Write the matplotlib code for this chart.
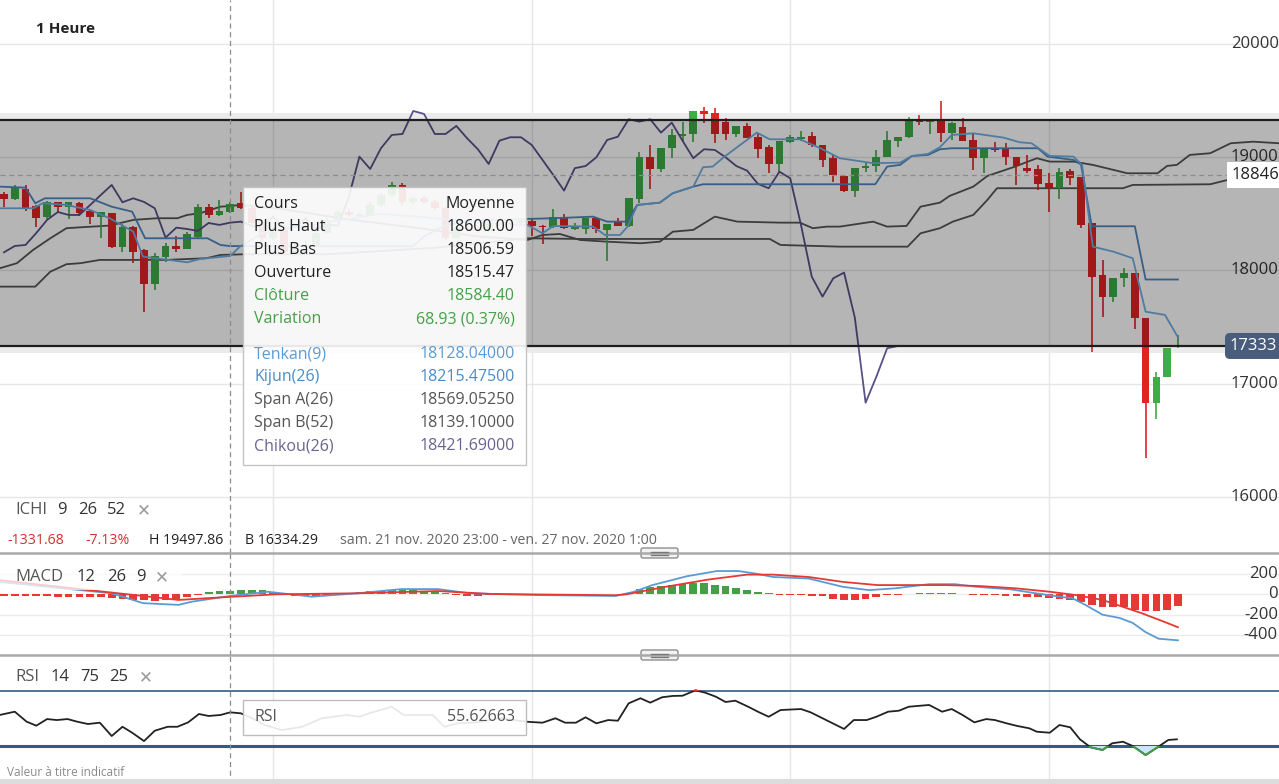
import numpy as np
import matplotlib.pyplot as plt
from matplotlib.patches import Rectangle, FancyBboxPatch

plt.rcParams['font.family'] = ['Open Sans', 'DejaVu Sans']

W, H = 1279, 784

# hourly candles, sam. 21 nov. 2020 23:00 -> ven. 27 nov. 2020 1:00
opens = [18673, 18631, 18720, 18570, 18470, 18602, 18563, 18593, 18525, 18475,
         18505, 18210, 18387, 18181, 17881, 18117, 18219, 18190, 18298, 18563,
         18490, 18515, 18593, 18549, 18420, 18290, 18357, 18160, 18216, 18225,
         18331, 18446, 18516, 18485, 18490, 18578, 18667, 18755, 18602, 18637,
         18605, 18549, 18290, 18378, 18366, 18349, 18419, 18402, 18422, 18437,
         18393, 18382, 18475, 18364, 18364, 18461, 18358, 18426, 18393, 18631,
         19005, 18896, 19079, 19190, 19203, 19411, 19388, 19314, 19205, 19276,
         19181, 19088, 18940, 19137, 19158, 19188, 19108, 18991, 18835, 18702,
         18903, 18922, 18999, 19146, 19181, 19329, 19314, 19335, 19217, 19270,
         19152, 18991, 19070, 19070, 19005, 18903, 18894, 18770, 18726, 18881,
         18823, 18417, 17960, 17769, 17931, 17981, 17583, 16832, 17062, 17322]
highs = [18690, 18755, 18755, 18575, 18610, 18605, 18605, 18600, 18530, 18520,
         18510, 18411, 18390, 18185, 18152, 18245, 18305, 18343, 18587, 18587,
         18622, 18600, 18690, 18570, 18440, 18380, 18370, 18240, 18260, 18350,
         18460, 18530, 18540, 18510, 18600, 18680, 18780, 18770, 18650, 18660,
         18620, 18560, 18390, 18400, 18380, 18430, 18440, 18440, 18450, 18452,
         18402, 18543, 18499, 18417, 18461, 18461, 18408, 18461, 18643, 19049,
         19108, 19079, 19247, 19314, 19408, 19446, 19432, 19344, 19276, 19300,
         19205, 19108, 19146, 19196, 19234, 19226, 19108, 19020, 18845, 18903,
         18961, 19064, 19234, 19181, 19358, 19373, 19335, 19498, 19314, 19344,
         19212, 19070, 19137, 19123, 19005, 19020, 18932, 18858, 18903, 18894,
         18823, 18417, 18093, 17931, 18019, 17981, 17583, 17106, 17313, 17431]
lows = [18558, 18625, 18525, 18388, 18455, 18508, 18452, 18481, 18408, 18284,
        18196, 18166, 18069, 17631, 17828, 18078, 18166, 18185, 18290, 18461,
        18481, 18507, 18540, 18400, 18250, 18270, 18140, 18130, 18190, 18210,
        18320, 18430, 18470, 18460, 18480, 18560, 18650, 18580, 18590, 18590,
        18530, 18270, 18280, 18350, 18330, 18340, 18390, 18395, 18410, 18307,
        18231, 18373, 18364, 18358, 18322, 18328, 18087, 18393, 18387, 18593,
        18720, 18867, 18996, 19137, 19137, 19300, 19123, 19152, 19176, 19167,
        18996, 18864, 18858, 19123, 19146, 19093, 18917, 18784, 18690, 18652,
        18872, 18872, 18999, 19093, 19167, 19285, 19203, 19137, 19152, 19146,
        18887, 18858, 19046, 18932, 18755, 18858, 18711, 18519, 18629, 18755,
        18373, 17283, 17592, 17719, 17852, 17481, 16342, 16686, 17062, 17313]
closes = [18631, 18726, 18543, 18466, 18602, 18563, 18602, 18510, 18475, 18514,
          18210, 18387, 18166, 17878, 18128, 18216, 18190, 18322, 18563, 18490,
          18525, 18584, 18549, 18420, 18290, 18357, 18160, 18216, 18225, 18331,
          18446, 18516, 18490, 18490, 18578, 18667, 18755, 18602, 18637, 18605,
          18549, 18290, 18378, 18366, 18349, 18419, 18402, 18422, 18431, 18393,
          18382, 18475, 18373, 18382, 18461, 18364, 18408, 18393, 18643, 19005,
          18896, 19079, 19196, 19205, 19408, 19382, 19205, 19205, 19276, 19167,
          19070, 18940, 19146, 19176, 19176, 19108, 18976, 18843, 18705, 18903,
          18922, 18999, 19152, 19181, 19335, 19314, 19335, 19217, 19305, 19146,
          18991, 19070, 19064, 18999, 18922, 18881, 18764, 18726, 18872, 18814,
          18402, 17945, 17769, 17931, 17981, 17583, 16832, 17062, 17313, 17333]

# ichimoku lines (candle index, price)
tenkan_x = [-0.4, 2.7, 3.6, 5.8, 8.0, 9.8, 12.0, 12.9, 17.0, 18.2,
            21.0, 21.9, 24, 27, 31, 35, 39, 43, 46, 48.6,
            50.0, 51.0, 54.7, 55.8, 57.2, 57.9, 58.8, 60.9, 62.1, 64.0,
            64.9, 65.8, 66.9, 69.9, 71.1, 73.9, 75.8, 77.6, 80.7, 83.2,
            84.3, 85.8, 86.9, 88.0, 90.0, 92.8, 94.3, 95.4, 97.1, 99.3,
            100.1, 101.1, 103.0, 104.8, 106.0, 107.8, 109.0]
tenkan_y = [18549, 18549, 18593, 18578, 18534, 18461, 18343, 18122, 18072, 18101,
            18128, 18210, 18330, 18380, 18440, 18500, 18470, 18430, 18410, 18402,
            18328, 18393, 18387, 18313, 18313, 18387, 18578, 18599, 18682, 18740,
            18911, 18917, 19005, 19217, 19158, 19158, 19079, 18991, 18947, 18952,
            19011, 19029, 19088, 19196, 19211, 19173, 19132, 19123, 19011, 19005,
            18932, 18210, 18166, 18108, 17636, 17607, 17410]
kijun_x = [-0.4, 2.0, 2.9, 3.8, 8.0, 10.0, 11.9, 13.1, 18.9, 20.1,
           21.0, 30, 38, 39, 41, 44, 48.6, 51.0, 54.7, 56.0,
           57.8, 58.8, 60.9, 62.1, 64.0, 64.9, 80.9, 82.0, 83.2, 84.3,
           85.8, 86.9, 88.0, 96.0, 96.9, 99.3, 100.0, 101.0, 105.0, 106.0,
           109.0]
kijun_y = [18740, 18731, 18593, 18637, 18637, 18563, 18519, 18284, 18284, 18225,
           18215, 18215, 18215, 18300, 18400, 18440, 18455, 18461, 18475, 18431,
           18431, 18578, 18599, 18682, 18740, 18761, 18761, 18917, 18932, 19011,
           19020, 19070, 19079, 19079, 19005, 18976, 18935, 18390, 18390, 17920,
           17920]
span_a_x = [-0.4, 1.2, 2.7, 4.3, 5.8, 7.1, 9.8, 12.0, 14.2, 16.1,
            17.0, 18.2, 20.1, 21.0, 21.9, 26, 32, 38, 44, 48.6,
            50.0, 51.6, 53.5, 56.0, 59.1, 60.9, 62.1, 64.0, 66.0, 68.1,
            72.1, 73.9, 75.1, 76.4, 77.6, 80.7, 82.0, 83.8, 85.1, 86.9,
            87.8, 90.0, 91.3, 93.7, 95.9, 97.1, 99.3, 101.1, 104.3, 107.1,
            108.0, 108.9, 110.1, 112.0, 113.9, 116.0, 118.4]
span_a_y = [18019, 18064, 18181, 18284, 18373, 18381, 18396, 18446, 18461, 18461,
            18490, 18505, 18563, 18569, 18578, 18540, 18450, 18380, 18300, 18269,
            18313, 18322, 18269, 18254, 18240, 18254, 18342, 18358, 18475, 18431,
            18422, 18422, 18373, 18387, 18387, 18431, 18387, 18393, 18563, 18599,
            18658, 18740, 18834, 18911, 18991, 18961, 18961, 18932, 18858, 18858,
            18923, 18932, 19020, 19035, 19123, 19137, 19123]
span_b_x = [-0.4, 2.9, 4.3, 5.8, 7.1, 8.9, 15.1, 18.8, 20.1, 21.0,
            22.4, 30, 40, 48.6, 53.5, 71.1, 72.1, 77.6, 83.9, 85.1,
            86.9, 88.1, 90.0, 91.3, 92.2, 103.9, 104.8, 112.0, 113.6, 118.4]
span_b_y = [17857, 17857, 17989, 18055, 18064, 18093, 18093, 18108, 18137, 18139,
            18143, 18143, 18200, 18284, 18278, 18278, 18225, 18210, 18210, 18328,
            18373, 18431, 18490, 18622, 18726, 18726, 18755, 18761, 18799, 18799]
chikou_shift = 26

# MACD 12 26 9
macd_x = [-0.4, 10.0, 12.9, 16.2, 17.5, 21.0, 24.5, 28.6, 32.8, 36.9,
          40.3, 43.2, 49.4, 56.8, 58.5, 60.2, 63.4, 66.2, 68.2, 69.8,
          71.4, 74.7, 77.9, 80.3, 82.7, 85.9, 88.3, 90.3, 93.5, 95.5,
          98.0, 99.2, 100.4, 102.0, 103.6, 104.8, 106.0, 107.2, 109.0]
macd_y = [118, 7, -89, -106, -74, -19, 22, -26, 7, 48,
          48, 7, -10, -19, 22, 87, 173, 224, 224, 199,
          166, 151, 70, 38, 55, 96, 96, 70, 45, 12,
          -26, -41, -106, -202, -234, -282, -372, -436, -452]
signal_x = [-0.4, 7.9, 12.1, 16.2, 20.3, 25.3, 32.8, 40.3, 45.2, 56.8,
            57.8, 61.4, 65.4, 69.0, 71.4, 74.7, 77.9, 81.1, 84.3, 87.5,
            90.7, 94.0, 97.1, 99.5, 102.0, 103.6, 105.6, 107.6, 109.0]
signal_y = [135, 38, -10, -58, -32, -3, 7, 29, 0, -12,
            -3, 70, 141, 189, 189, 166, 118, 87, 87, 87,
            77, 55, 22, -10, -58, -115, -186, -266, -324]
hist = [-22, -22, -22, -24, -24, -25, -25, -26, -26, -30,
        -38, -45, -55, -62, -64, -60, -45, -25, -5, 15,
        25, 32, 40, 42, 35, 20, 5, -15, -20, -22,
        -15, -5, 10, 18, 25, 32, 38, 40, 38, 30,
        20, 8, -12, -20, -18, -10, -6, -4, -3, -3,
        -4, -4, -3, -3, -2, -3, -4, -3, 12, 45,
        64, 77, 87, 93, 103, 103, 90, 77, 61, 38,
        19, 6, -10, -12, -14, -18, -15, -50, -58, -58,
        -48, -30, -12, -6, -4, 6, 8, 10, 8, 4,
        -10, -12, -14, -16, -19, -26, -32, -42, -51, -58,
        -74, -106, -122, -128, -122, -154, -170, -170, -154, -115]

# RSI 14
rsi_x = [-0.4, 1.0, 2.1, 3.0, 4.0, 4.9, 5.9, 6.8, 7.8, 8.9,
         10.0, 11.0, 11.9, 13.0, 14.0, 15.2, 16.1, 17.1, 18.1, 19.0,
         20.1, 21.0, 22.0, 23.0, 24.2, 25.8, 27.7, 29.5, 31.8, 33.0,
         34.1, 36.0, 37.1, 39.8, 40.9, 42.1, 44.2, 46.1, 47.4, 48.5,
         50.0, 51.2, 52.1, 53.1, 54.0, 55.0, 56.1, 57.0, 58.0, 59.1,
         60.0, 61.1, 62.1, 63.0, 64.2, 65.1, 66.1, 67.0, 67.9, 69.1,
         70.0, 71.0, 72.1, 74.0, 74.9, 78.0, 78.9, 80.1, 81.0, 82.1,
         83.1, 84.0, 85.9, 87.1, 88.0, 89.0, 90.1, 91.2, 92.0, 93.1,
         94.1, 95.2, 95.9, 97.1, 98.0, 99.0, 99.9, 100.9, 102.0, 102.9,
         103.9, 104.8, 106.0, 107.1, 108.1, 108.9]
rsi_y = [53.2, 56.2, 47.1, 43.5, 49.5, 48.6, 49.5, 47.1, 45.0, 46.2,
         34.1, 42.5, 37.1, 29.5, 38.9, 42.5, 42.5, 46.5, 54.1, 52.3,
         53.2, 55.6, 54.7, 50.5, 44.0, 39.5, 42.5, 50.2, 53.2, 51.6,
         55.3, 60.7, 53.2, 53.2, 42.5, 45.6, 46.8, 50.5, 48.6, 47.1,
         46.2, 50.2, 46.2, 46.2, 51.1, 45.6, 48.6, 48.0, 63.8, 68.4,
         64.4, 69.3, 70.5, 70.7, 75.6, 73.5, 69.8, 65.0, 66.2, 60.7,
         56.2, 51.6, 57.7, 58.6, 55.6, 40.5, 48.6, 48.6, 51.6, 56.2,
         57.1, 60.7, 62.3, 56.2, 58.6, 53.2, 46.5, 49.5, 48.6, 45.6,
         43.2, 41.1, 38.0, 37.1, 44.1, 42.0, 31.1, 23.8, 21.4, 27.5,
         28.9, 25.0, 16.8, 23.8, 30.5, 31.1]

price_ticks = [20000, 19000, 18000, 17000, 16000]
macd_ticks = [200, 0, -200, -400]
day_lines = [25, 49, 73, 97]
cursor_idx = 21
cursor_price = 18846
last_price = 17333
zone_top, zone_bottom = 19330, 17330

tooltip_rows = [('Cours', 'Moyenne', '#222222'),
                ('Plus Haut', '18600.00', '#222222'),
                ('Plus Bas', '18506.59', '#222222'),
                ('Ouverture', '18515.47', '#222222'),
                ('Clôture', '18584.40', '#45a046'),
                ('Variation', '68.93 (0.37%)', '#45a046'),
                ('Tenkan(9)', '18128.04000', '#5b9bd5'),
                ('Kijun(26)', '18215.47500', '#4a8cc9'),
                ('Span A(26)', '18569.05250', '#555555'),
                ('Span B(52)', '18139.10000', '#555555'),
                ('Chikou(26)', '18421.69000', '#6b6290')]

RED, GREEN = '#e02424', '#3fac46'
step = 10.77  # pixels per candle

fig = plt.figure(figsize=(W / 100, H / 100), dpi=100)
fig.patch.set_facecolor('white')


def band(top, bottom):
    return [0, 1 - bottom / H, 1, (bottom - top) / H]


ax = fig.add_axes(band(0, 553))
ax_macd = fig.add_axes(band(553, 655))
ax_rsi = fig.add_axes(band(655, H))
ov = fig.add_axes([0, 0, 1, 1], zorder=10)
ov.set_xlim(0, W)
ov.set_ylim(H, 0)
ov.set_axis_off()

for a in (ax, ax_macd, ax_rsi):
    a.set_xlim(-4 / step, (W - 4) / step)
    a.set_axis_off()
    for d in day_lines:
        a.axvline(d, color='#e6e6e6', lw=1, zorder=0)
    a.axvline(cursor_idx, color='#8c8c8c', lw=0.9, ls=(0, (4, 3)), zorder=6)

# ---- main panel ----
ax.set_ylim(15505, 20388)
for t in price_ticks:
    ax.axhline(t, color='#e6e6e6', lw=1, zorder=0)
    ax.text(1231 / W, t, str(t), transform=ax.get_yaxis_transform(),
            ha='left', va='center', fontsize=12, color='#333333', zorder=4)

ax.axhspan(zone_top, zone_top + 60, color='#ebebeb', lw=0, zorder=0.5)
ax.axhspan(zone_bottom - 55, zone_bottom, color='#ebebeb', lw=0, zorder=0.5)

ax.plot(span_a_x, span_a_y, color='#555555', lw=1.3, zorder=2)
ax.plot(span_b_x, span_b_y, color='#555555', lw=1.3, zorder=2)

o = np.array(opens)
c = np.array(closes)
x = np.arange(len(c))
cols = [GREEN if cc >= oo else RED for oo, cc in zip(o, c)]
ax.vlines(x, lows, highs, colors=cols, lw=1.2, zorder=3)
ax.bar(x, np.maximum(np.abs(c - o), 12), bottom=np.minimum(o, c), width=0.72,
       color=cols, lw=0, zorder=3.2)

ax.plot(x[:-chikou_shift], c[chikou_shift:], color='#5b5087', lw=1.3, zorder=3.5)
ax.plot(kijun_x, kijun_y, color='#4f86bf', lw=1.3, zorder=3.6)
ax.plot(tenkan_x, tenkan_y, color='#72aee3', lw=1.3, zorder=3.7)

# highlighted price zone
ax.axhspan(zone_bottom, zone_top, color='black', alpha=0.29, lw=0, zorder=5)
ax.axhline(zone_top, color='#1e1e1e', lw=1.6, zorder=5.5)
ax.axhline(zone_bottom, color='#1e1e1e', lw=1.6, zorder=5.5)

ax.axhline(cursor_price, color='#8c8c8c', lw=0.9, ls=(0, (4, 3)), zorder=6)
ax.text(1232 / W, cursor_price, str(cursor_price), transform=ax.get_yaxis_transform(),
        ha='left', va='center', fontsize=12, color='#222222', zorder=7,
        bbox=dict(boxstyle='square,pad=0.3', fc='white', ec='none'))
ax.text(1230 / W, last_price, str(last_price), transform=ax.get_yaxis_transform(),
        ha='left', va='center', fontsize=12, color='white', zorder=7,
        bbox=dict(boxstyle='round,pad=0.3,rounding_size=0.3', fc='#4a5c7b', ec='none'))

# ---- MACD panel ----
ax_macd.set_ylim(-595, 400)
for t in macd_ticks:
    ax_macd.axhline(t, color='#ececec', lw=1, zorder=0)
    ax_macd.text(1278 / W, t, str(t), transform=ax_macd.get_yaxis_transform(),
                 ha='right', va='center', fontsize=12, color='#333333', zorder=4)
hcols = ['#43a047' if h > 0 else '#e53935' for h in hist]
ax_macd.bar(x, hist, width=0.72, color=hcols, lw=0, zorder=2)
ax_macd.plot(macd_x, macd_y, color='#5b9bd5', lw=1.3, zorder=3)
ax_macd.plot(signal_x, signal_y, color='#e53935', lw=1.3, zorder=3)

# ---- RSI panel ----
ax_rsi.set_ylim(-9.5, 107.7)
ax_rsi.axhline(75, color='#2f5d88', lw=1.2, zorder=1)
ax_rsi.axhline(25, color='#2f5d88', lw=2.2, zorder=1)
ry = np.array(rsi_y)
ax_rsi.fill_between(rsi_x, ry, 25, where=ry < 25, interpolate=True,
                    color='#cfe4f6', lw=0, zorder=1.5)
ax_rsi.plot(rsi_x, rsi_y, color='#222222', lw=1.3, zorder=3)
low_line, = ax_rsi.plot(rsi_x, rsi_y, color='#43a047', lw=1.3, zorder=3.5)
low_line.set_clip_path(Rectangle((-5, -50), 200, 75, transform=ax_rsi.transData))
high_line, = ax_rsi.plot(rsi_x, rsi_y, color='#e53935', lw=1.3, zorder=3.5)
high_line.set_clip_path(Rectangle((-5, 75), 200, 100, transform=ax_rsi.transData))

# ---- overlays (pixel coordinates) ----
ov.text(36, 29, '1 Heure', fontsize=11, fontweight='bold', color='#222222', va='center')

# tooltip
ov.add_patch(Rectangle((243, 187), 283, 278, fc=(1, 1, 1, 0.9), ec='#c4c4c4', lw=1))
for (label, value, col), yy in zip(tooltip_rows,
                                   [204, 227, 250, 273, 296, 319, 354, 377, 400, 423, 446]):
    ov.text(254, yy, label, fontsize=11.5, color=col, va='center', ha='left')
    ov.text(515, yy, value, fontsize=11.5, color=col, va='center', ha='right')

ov.add_patch(Rectangle((243, 700), 283, 35, fc=(1, 1, 1, 0.9), ec='#bdbdbd', lw=1))
ov.text(254, 717, 'RSI', fontsize=11.5, color='#555555', va='center')
ov.text(515, 717, '55.62663', fontsize=11.5, color='#555555', va='center', ha='right')

# indicator headers
def header(y, parts):
    for xx, txt, col in parts:
        ov.text(xx, y, txt, fontsize=12, color=col, va='center', ha='left',
                fontweight='bold' if txt == '✕' else 'normal')


header(510, [(15, 'ICHI', '#555555'), (57, '9', '#333333'), (78, '26', '#333333'),
             (107, '52', '#333333'), (137, '✕', '#9a9a9a')])
ov.add_patch(Rectangle((0, 565), 182, 25, fc=(1, 1, 1, 0.75), ec='none'))
header(577, [(15, 'MACD', '#555555'), (77, '12', '#333333'), (107, '26', '#333333'),
             (136, '9', '#333333'), (155, '✕', '#9a9a9a')])
ov.add_patch(Rectangle((0, 664), 163, 26, fc=(1, 1, 1, 0.8), ec='none'))
header(677, [(15, 'RSI', '#555555'), (51, '14', '#333333'), (80, '75', '#333333'),
             (109, '25', '#333333'), (139, '✕', '#9a9a9a')])

for xx, txt, col in [(7, '-1331.68', '#d32f2f'), (85, '-7.13%', '#d32f2f'),
                     (149, 'H 19497.86', '#222222'), (245, 'B 16334.29', '#222222'),
                     (340, 'sam. 21 nov. 2020 23:00 - ven. 27 nov. 2020 1:00', '#666666')]:
    ov.text(xx, 540, txt, fontsize=10.2, color=col, va='center', ha='left')

# panel separators and resize handles
for yy in (553, 655):
    ov.plot([0, W], [yy, yy], color='#a9a9a9', lw=1.8)
    ov.add_patch(FancyBboxPatch((641, yy - 5), 37, 10,
                                boxstyle='round,pad=0,rounding_size=2',
                                fc='#f3f3f3', ec='#8e8e8e', lw=1))
    ov.plot([651, 668], [yy - 1.5, yy - 1.5], color='#777777', lw=1)
    ov.plot([651, 668], [yy + 1.5, yy + 1.5], color='#777777', lw=1)

ov.text(7, 773, 'Valeur à titre indicatif', fontsize=8.5, color='#8a8a8a', va='center')
ov.add_patch(Rectangle((0, 779), W, 5, fc='#dcdcdc', ec='none'))

fig.savefig('out.png', dpi=100)
